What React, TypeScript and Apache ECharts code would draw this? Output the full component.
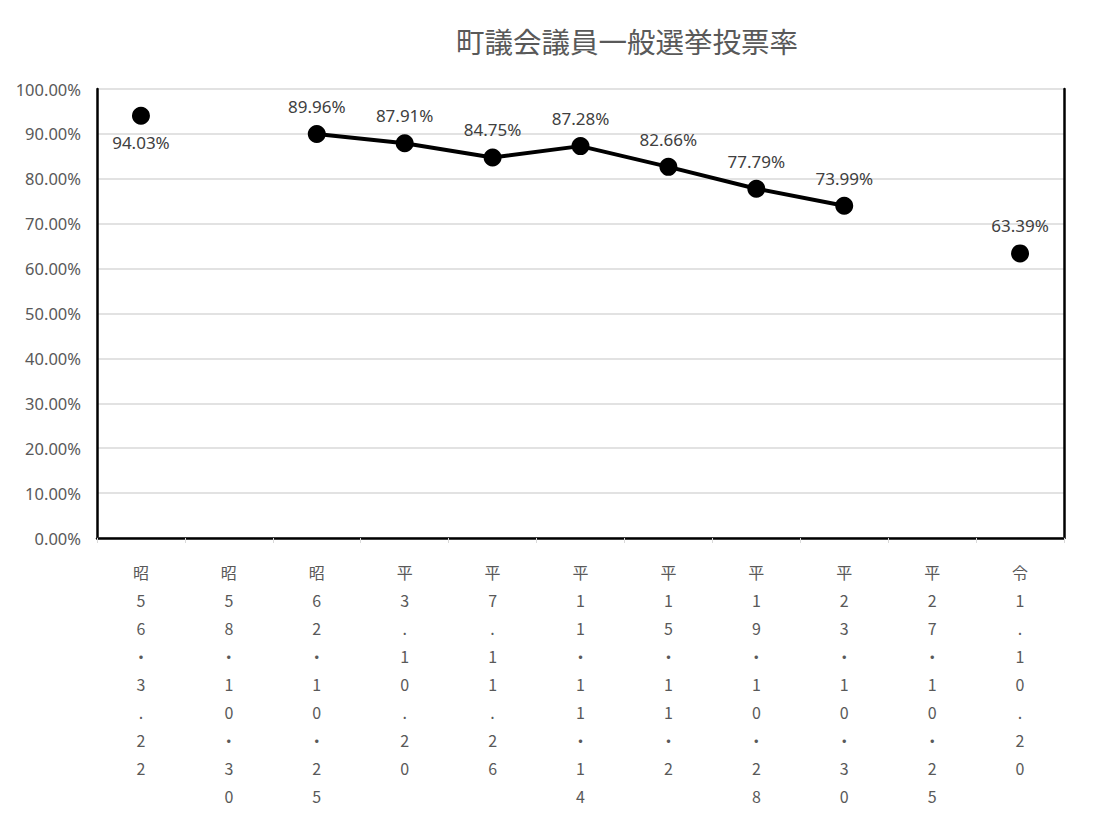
import { useEffect, useRef } from 'react'
import * as echarts from 'echarts'

const title = '町議会議員一般選挙投票率'
const categories = [
  '昭56・3.22',
  '昭58・10・30',
  '昭62・10・25',
  '平3.10.20',
  '平7.11.26',
  '平11・11・14',
  '平15・11・2',
  '平19・10・28',
  '平23・10・30',
  '平27・10・25',
  '令1.10.20',
]
const turnout: (number | null)[] = [94.03, null, 89.96, 87.91, 84.75, 87.28, 82.66, 77.79, 73.99, null, 63.39]

const FONT = '"Noto Sans", "Noto Sans CJK JP", sans-serif'
const CJK = '"Noto Sans CJK JP", "Noto Sans", sans-serif'
const GREY = '#595959'

export default function App() {
  const ref = useRef<HTMLDivElement>(null)

  useEffect(() => {
    if (!ref.current) return
    const chart = echarts.init(ref.current, null, { renderer: 'svg' })
    chart.setOption({
      animation: false,
      backgroundColor: '#ffffff',
      textStyle: { fontFamily: FONT },
      title: {
        text: title,
        left: 451,
        top: 21,
        textStyle: { fontFamily: CJK, fontSize: 28.5, fontWeight: 'normal', color: GREY },
      },
      grid: { left: 97, right: 49, top: 89, bottom: 285 },
      xAxis: [
        {
          type: 'category',
          data: categories,
          boundaryGap: true,
          axisLine: { lineStyle: { color: '#d9d9d9', width: 1.5 } },
          axisTick: { show: true, length: 5, lineStyle: { color: '#d9d9d9' } },
          axisLabel: {
            interval: 0,
            margin: 20,
            fontSize: 16,
            lineHeight: 28,
            color: GREY,
            fontFamily: CJK,
            verticalAlign: 'top',
            formatter: (v: string) => v.split('').join('\n'),
          },
        },
        {
          type: 'category',
          position: 'top',
          data: categories,
          axisLine: { show: true, lineStyle: { color: '#000000', width: 2.5 } },
          axisTick: { show: false },
          axisLabel: { show: false },
        },
      ],
      yAxis: [
        {
          type: 'value',
          min: 0,
          max: 100,
          interval: 10,
          axisLine: { show: true, lineStyle: { color: '#000000', width: 2.5 } },
          axisTick: { show: false },
          axisLabel: {
            fontSize: 16.5,
            color: GREY,
            fontFamily: FONT,
            margin: 16,
            formatter: (v: number) => v.toFixed(2) + '%',
          },
          splitLine: { lineStyle: { color: '#d9d9d9', width: 1.5 } },
        },
        {
          type: 'value',
          position: 'right',
          min: 0,
          max: 100,
          interval: 10,
          axisLine: { show: true, lineStyle: { color: '#000000', width: 2.5 } },
          axisTick: { show: false },
          axisLabel: { show: false },
          splitLine: { show: false },
        },
      ],
      series: [
        {
          name: '投票率',
          type: 'line',
          data: turnout.map((v, i) =>
            i === 0 && v !== null
              ? { value: v, label: { position: 'bottom', distance: 9 } }
              : v,
          ),
          connectNulls: false,
          symbol: 'circle',
          symbolSize: 18,
          itemStyle: { color: '#000000' },
          lineStyle: { color: '#000000', width: 4 },
          label: {
            show: true,
            position: 'top',
            distance: 10,
            fontSize: 17,
            color: '#404040',
            fontFamily: FONT,
            formatter: (p: { value: number }) => Number(p.value).toFixed(2) + '%',
          },
        },
      ],
    })
    return () => chart.dispose()
  }, [])

  return (
    <div
      ref={ref}
      style={{ position: 'fixed', left: 0, top: 0, width: 1113, height: 823 }}
    />
  )
}
